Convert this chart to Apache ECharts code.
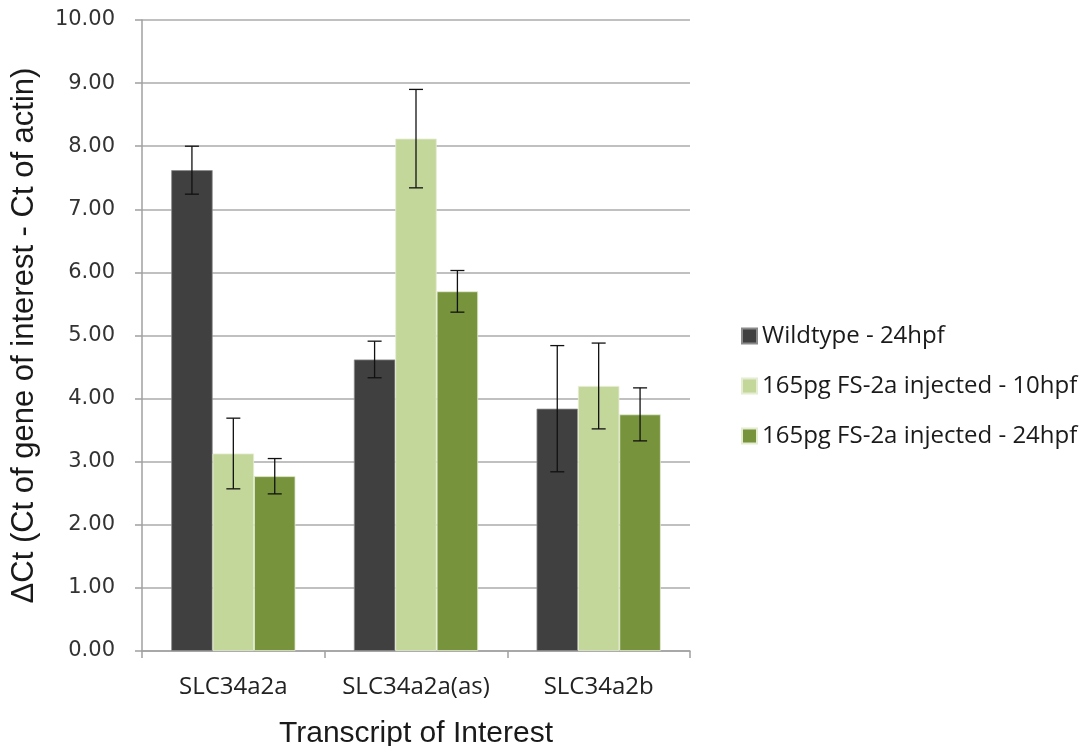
<!DOCTYPE html>
<html>
<head>
<meta charset="utf-8">
<script src="https://cdn.jsdelivr.net/npm/echarts@6/dist/echarts.min.js"></script>
<style>
html,body{margin:0;padding:0;background:#fff;}
#chart{width:1089px;height:746px;}
</style>
</head>
<body>
<div id="chart"></div>
<script>
// Transcripts measured
const categories = ['SLC34a2a', 'SLC34a2a(as)', 'SLC34a2b'];
const seriesNames = ['Wildtype - 24hpf', '165pg FS-2a injected - 10hpf', '165pg FS-2a injected - 24hpf'];
// Mean ΔCt per transcript
const wildtype24 = [7.62, 4.62, 3.84];
const injected10 = [3.13, 8.12, 4.20];
const injected24 = [2.77, 5.70, 3.75];
// Error bar half-widths
const wildtype24Err = [0.38, 0.29, 1.00];
const injected10Err = [0.56, 0.78, 0.68];
const injected24Err = [0.28, 0.33, 0.42];
const yTicks = [0, 1, 2, 3, 4, 5, 6, 7, 8, 9, 10];

const colors = ['#404040', '#c4d79b', '#77933c'];
const values = [wildtype24, injected10, injected24];
const errors = [wildtype24Err, injected10Err, injected24Err];
const catGap = 0.32;

function errorSeries(idx) {
  const data = categories.map((c, i) => [i, values[idx][i] - errors[idx][i], values[idx][i] + errors[idx][i]]);
  return {
    type: 'custom',
    name: seriesNames[idx] + ' error',
    z: 10,
    silent: true,
    data: data,
    encode: { x: 0, y: [1, 2] },
    renderItem: function (params, api) {
      const band = api.size([1, 0])[0];
      const bw = band * (1 - catGap) / 3;
      const off = (idx - 1) * bw;
      const lo = api.coord([api.value(0), api.value(1)]);
      const hi = api.coord([api.value(0), api.value(2)]);
      const x = lo[0] + off;
      const cap = 7;
      const style = { stroke: '#111', lineWidth: 1.3 };
      return {
        type: 'group',
        children: [
          { type: 'line', shape: { x1: x, y1: lo[1], x2: x, y2: hi[1] }, style: style },
          { type: 'line', shape: { x1: x - cap, y1: lo[1], x2: x + cap, y2: lo[1] }, style: style },
          { type: 'line', shape: { x1: x - cap, y1: hi[1], x2: x + cap, y2: hi[1] }, style: style }
        ]
      };
    }
  };
}

const barSeries = values.map((v, i) => ({
  type: 'bar',
  name: seriesNames[i],
  data: v,
  barGap: '0%',
  barCategoryGap: (catGap * 100) + '%',
  itemStyle: { color: colors[i], borderColor: i === 0 ? '#8a8a8a' : '#e4ecd2', borderWidth: 0.8 }
}));

const chart = echarts.init(document.getElementById('chart'), null, { renderer: 'canvas' });
chart.setOption({
  animation: false,
  backgroundColor: '#ffffff',
  color: colors,
  grid: { left: 142, right: 399, top: 20, bottom: 95, containLabel: false, outerBoundsMode: 'none' },
  legend: {
    orient: 'vertical',
    left: 736,
    top: 319,
    itemWidth: 15,
    itemHeight: 15,
    itemGap: 26,
    icon: 'rect',
    data: seriesNames,
    textStyle: { fontFamily: 'Open Sans', fontSize: 24, lineHeight: 24, color: '#1a1a1a' }
  },
  xAxis: {
    type: 'category',
    data: categories,
    name: 'Transcript of Interest',
    nameLocation: 'middle',
    nameGap: 68,
    nameTextStyle: { fontFamily: 'Liberation Sans', fontSize: 30, color: '#1a1a1a' },
    axisLine: { lineStyle: { color: '#a0a0a0', width: 1.5 } },
    axisTick: { show: true, interval: 0, length: 7, lineStyle: { color: '#a0a0a0', width: 1.5 } },
    axisLabel: { interval: 0, hideOverlap: false, fontFamily: 'Open Sans', fontSize: 24, color: '#222', margin: 24 }
  },
  yAxis: {
    type: 'value',
    min: yTicks[0],
    max: yTicks[yTicks.length - 1],
    interval: 1,
    name: 'ΔCt (Ct of gene of interest - Ct of actin)',
    nameLocation: 'middle',
    nameGap: 102,
    nameRotate: 90,
    nameTextStyle: { fontFamily: 'Liberation Sans', fontSize: 31, color: '#1a1a1a' },
    axisLine: { show: true, lineStyle: { color: '#a0a0a0', width: 1.5 } },
    axisTick: { show: true, inside: false, length: 7, lineStyle: { color: '#a0a0a0', width: 1.5 } },
    axisLabel: {
      fontFamily: 'DejaVu Sans', fontSize: 21, color: '#333', margin: 27,
      formatter: v => v.toFixed(2)
    },
    splitLine: { lineStyle: { color: '#ababab', width: 1.5 } }
  },
  series: barSeries.concat([0, 1, 2].map(errorSeries))
});
</script>
</body>
</html>
